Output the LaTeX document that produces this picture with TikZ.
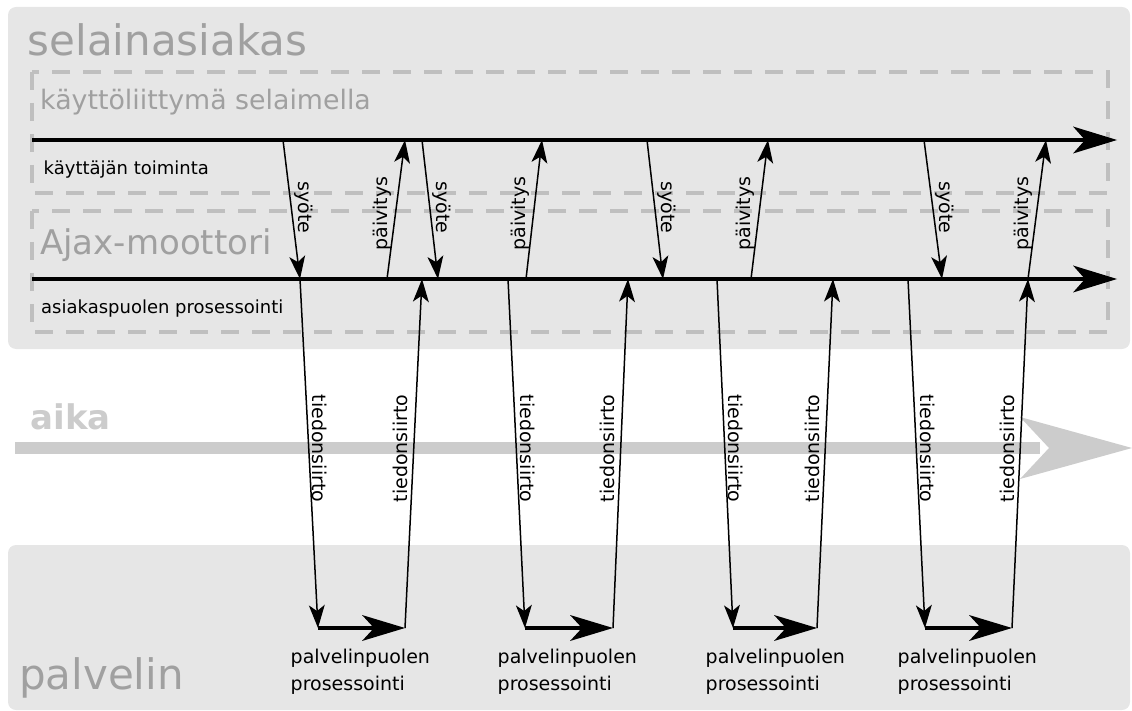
\documentclass[tikz,border=0pt]{standalone}
\usepackage{fontspec}
\setmainfont{DejaVu Sans}
\usetikzlibrary{arrows.meta,calc}
\definecolor{boxgray}{HTML}{E6E6E6}
\definecolor{dashgray}{HTML}{BFBFBF}
\definecolor{titlegray}{HTML}{A0A0A0}
\definecolor{timegray}{HTML}{CCCCCC}
\begin{document}
\begin{tikzpicture}[x=1pt,y=-1pt,
  panel/.style={fill=boxgray, draw=none, rounded corners=8pt},
  dashbox/.style={draw=dashgray, line width=4pt, dash pattern=on 18pt off 13pt},
  timeline/.style={line width=4pt, -{Stealth[length=44pt,width=27pt,inset=12pt,line width=0pt]}},
  srvarrow/.style={line width=4pt, -{Stealth[length=43pt,width=26pt,inset=12pt,line width=0pt]}},
  msg/.style={line width=1.5pt, -{Stealth[length=23pt,width=16pt,inset=6pt,line width=0pt]}},
  lab/.style={font=\fontsize{19}{23}\selectfont, inner sep=0pt},
  small/.style={anchor=base west, inner sep=0pt, font=\fontsize{18}{22}\selectfont},
  big/.style={anchor=base west, inner sep=0pt, text=titlegray, font=\fontsize{42}{42}\selectfont},
  srvtext/.style={anchor=north west, inner sep=0pt, align=left, font=\fontsize{19}{27}\selectfont}
]
\useasboundingbox (0,0) rectangle (1132,711);
% panels
\path[panel] (8,7) rectangle (1130,349);
\path[panel] (8,545) rectangle (1130,710);
% dashed sub-boxes
\draw[dashbox] (32,72) rectangle (1108,193);
\draw[dashbox] (32,211) rectangle (1108,332);
% titles
\node[big] (tclient) at (27.5,56) {selainasiakas};
\node[big] (tserver) at (19,689) {palvelin};
\node[anchor=base west, inner sep=0pt, text=titlegray, font=\fontsize{26.8}{30}\selectfont] (tui) at (40,110) {käyttöliittymä selaimella};
\node[anchor=base west, inner sep=0pt, text=titlegray, font=\fontsize{34}{38}\selectfont] (tajax) at (40,255) {Ajax-moottori};
\node[small] (tuser) at (43.5,175) {käyttäjän toiminta};
\node[small] (tproc) at (41,313) {asiakaspuolen prosessointi};
% time arrow
\coordinate (ts) at (15,448);
\coordinate (tb) at (1040,448);
\fill[timegray] (15,442) rectangle (1040,454);
\fill[timegray] (1020,417) -- (1132,448) -- (1020,479) -- (1049,448) -- cycle;
\node[anchor=base west, inner sep=0pt, text=timegray, font=\bfseries\fontsize{34}{38}\selectfont] (taika) at (30.5,429) {aika};
% main time lines
\coordinate (L1s) at (32,140);
\coordinate (L1e) at (1117,140);
\coordinate (L2s) at (32,279);
\coordinate (L2e) at (1117,279);
\draw[timeline] (L1s) -- (L1e);
\draw[timeline] (L2s) -- (L2e);
% message arrows
\foreach \i/\sa/\sb/\pa/\pb/\da/\db/\ua/\ub in {1/283/300/387/405/300/318/405/422, 2/422/438/526/542/508/525/613/628, 3/647/663/751/768/717/733/817/833, 4/924/942/1028/1046/908/925/1012/1028}{
  \coordinate (s\i a) at (\sa,140);
  \coordinate (s\i b) at (\sb,279);
  \coordinate (p\i a) at (\pa,279);
  \coordinate (p\i b) at (\pb,140);
  \coordinate (d\i a) at (\da,279);
  \coordinate (d\i b) at (\db,628);
  \coordinate (u\i a) at (\ua,628);
  \coordinate (u\i b) at (\ub,279);
  \draw[msg] (s\i a) -- (s\i b);
  \draw[msg] (p\i a) -- (p\i b);
  \draw[msg] (d\i a) -- (d\i b);
  \draw[msg] (u\i a) -- (u\i b);
  \draw[srvarrow] (d\i b) -- (u\i a);
  \node[lab, rotate=-90] (ls\i) at ($(s\i a)!0.5!(s\i b)+(12,-2)$) {syöte};
  \node[lab, rotate=90] (lp\i) at ($(p\i a)!0.5!(p\i b)+(-14,4)$) {päivitys};
  \node[lab, rotate=-90] (ld\i) at ($(d\i a)!0.5!(d\i b)+(11,-5)$) {tiedonsiirto};
  \node[lab, rotate=90] (lu\i) at ($(u\i a)!0.5!(u\i b)+(-13,-5)$) {tiedonsiirto};
  \node[srvtext] (sp\i) at ($(d\i b)+(-27.5,20.5)$) {palvelinpuolen\\prosessointi};
}
\end{tikzpicture}
\end{document}
